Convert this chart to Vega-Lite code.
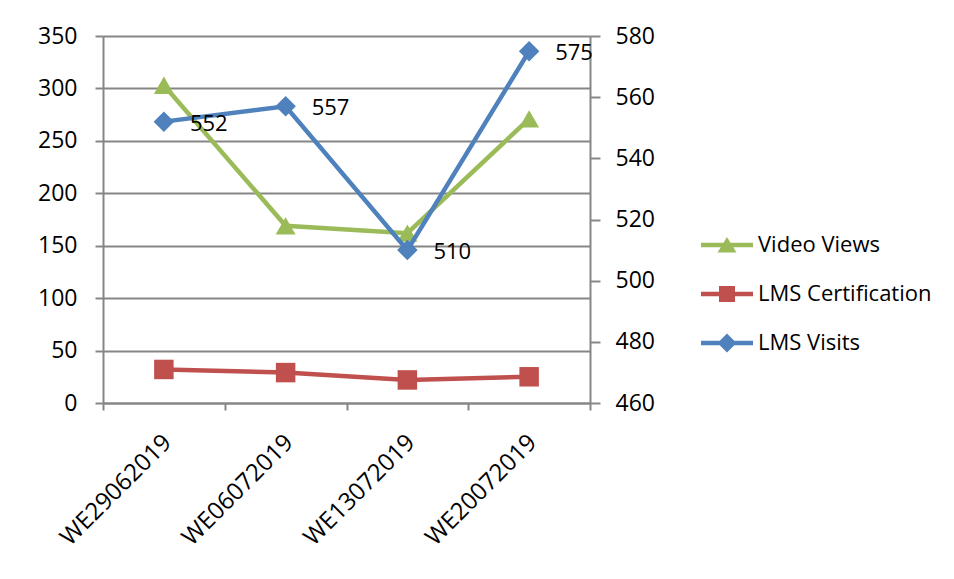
{
  "$schema": "https://vega.github.io/schema/vega-lite/v6.json",
  "description": "Weekly Video Views and LMS Certification (left axis) against LMS Visits (right axis).",
  "width": 487,
  "height": 367,
  "autosize": {"type": "none"},
  "padding": {"left": 103, "top": 36, "right": 364, "bottom": 176},
  "background": "white",
  "config": {
    "view": {"stroke": null},
    "font": "Open Sans",
    "axis": {
      "domainColor": "#868686",
      "tickColor": "#868686",
      "gridColor": "#868686",
      "domainWidth": 2,
      "tickWidth": 2,
      "gridWidth": 2,
      "labelColor": "black",
      "labelFont": "Open Sans",
      "labelFontSize": 23,
      "title": null
    }
  },
  "data": {
    "values": [
      {"week": "WE29062019", "series": "Video Views", "side": "left", "value": 303},
      {"week": "WE06072019", "series": "Video Views", "side": "left", "value": 169},
      {"week": "WE13072019", "series": "Video Views", "side": "left", "value": 162},
      {"week": "WE20072019", "series": "Video Views", "side": "left", "value": 271},
      {"week": "WE29062019", "series": "LMS Certification", "side": "left", "value": 32},
      {"week": "WE06072019", "series": "LMS Certification", "side": "left", "value": 29},
      {"week": "WE13072019", "series": "LMS Certification", "side": "left", "value": 22},
      {"week": "WE20072019", "series": "LMS Certification", "side": "left", "value": 25},
      {"week": "WE29062019", "series": "LMS Visits", "side": "right", "value": 552},
      {"week": "WE06072019", "series": "LMS Visits", "side": "right", "value": 557},
      {"week": "WE13072019", "series": "LMS Visits", "side": "right", "value": 510},
      {"week": "WE20072019", "series": "LMS Visits", "side": "right", "value": 575}
    ]
  },
  "encoding": {
    "x": {
      "field": "week",
      "type": "ordinal",
      "sort": null,
      "scale": {"type": "band", "paddingInner": 0, "paddingOuter": 0},
      "axis": {
        "labelAngle": -45,
        "tickBand": "extent",
        "tickSize": 7,
        "labelPadding": 20,
        "labelOffset": -5,
        "labelFontSize": 24
      }
    },
    "color": {
      "field": "series",
      "type": "nominal",
      "scale": {
        "domain": ["Video Views", "LMS Certification", "LMS Visits"],
        "range": ["#9BBB59", "#C0504D", "#4F81BD"]
      },
      "legend": {
        "title": null,
        "orient": "none",
        "legendX": 613,
        "legendY": 198,
        "symbolSize": 400,
        "symbolOpacity": 1,
        "symbolStrokeWidth": 0,
        "labelOffset": 20,
        "labelFontSize": 22,
        "labelFont": "Open Sans",
        "labelColor": "black",
        "labelLimit": 0,
        "rowPadding": 27
      }
    }
  },
  "layer": [
    {
      "transform": [{"filter": "datum.side === 'left'"}],
      "encoding": {
        "y": {
          "field": "value",
          "type": "quantitative",
          "scale": {"domain": [0, 350]},
          "axis": {
            "values": [0, 50, 100, 150, 200, 250, 300, 350],
            "tickSize": 8,
            "labelPadding": 18,
            "grid": true
          }
        }
      },
      "layer": [
        {
          "mark": {"type": "line", "strokeWidth": 4.5},
          "encoding": {}
        },
        {
          "transform": [{"filter": "datum.series === 'Video Views'"}],
          "mark": {"type": "point", "shape": "triangle-up", "filled": true, "size": 400, "opacity": 1},
          "encoding": {}
        },
        {
          "transform": [{"filter": "datum.series === 'LMS Certification'"}],
          "mark": {"type": "point", "shape": "square", "filled": true, "size": 380, "opacity": 1},
          "encoding": {}
        },
        {
          "mark": {"type": "point", "filled": true, "opacity": 0},
          "encoding": {
            "shape": {
              "field": "series",
              "type": "nominal",
              "scale": {
                "domain": ["Video Views", "LMS Certification", "LMS Visits"],
                "range": [
                  "M-2.6,-0.22H2.6V0.22H-2.6Z M0,-0.8L0.95,0.75L-0.95,0.75Z",
                  "M-2.6,-0.22H2.6V0.22H-2.6Z M-0.8,-0.8H0.8V0.8H-0.8Z",
                  "M-2.6,-0.22H2.6V0.22H-2.6Z M0,-0.95L0.95,0L0,0.95L-0.95,0Z"
                ]
              },
              "legend": {
                "title": null,
                "orient": "none",
                "legendX": 613,
                "legendY": 198,
                "symbolSize": 400,
                "symbolOpacity": 1,
                "symbolStrokeWidth": 0,
                "labelOffset": 20,
                "labelFontSize": 22,
                "labelFont": "Open Sans",
                "labelColor": "black",
                "labelLimit": 0,
                "rowPadding": 27
              }
            }
          }
        }
      ]
    },
    {
      "transform": [{"filter": "datum.side === 'right'"}],
      "encoding": {
        "y": {
          "field": "value",
          "type": "quantitative",
          "scale": {"domain": [460, 580]},
          "axis": {
            "orient": "right",
            "values": [460, 480, 500, 520, 540, 560, 580],
            "tickSize": 10,
            "labelPadding": 15,
            "grid": false
          }
        }
      },
      "layer": [
        {
          "mark": {"type": "line", "strokeWidth": 4.5},
          "encoding": {}
        },
        {
          "mark": {"type": "point", "shape": "diamond", "filled": true, "size": 420, "opacity": 1},
          "encoding": {}
        },
        {
          "mark": {"type": "text", "align": "left", "baseline": "middle", "dx": 26, "dy": 2, "fontSize": 22, "font": "Open Sans"},
          "encoding": {
            "text": {"field": "value", "type": "quantitative"},
            "color": {"value": "black"}
          }
        }
      ]
    }
  ],
  "resolve": {"scale": {"y": "independent"}}
}
